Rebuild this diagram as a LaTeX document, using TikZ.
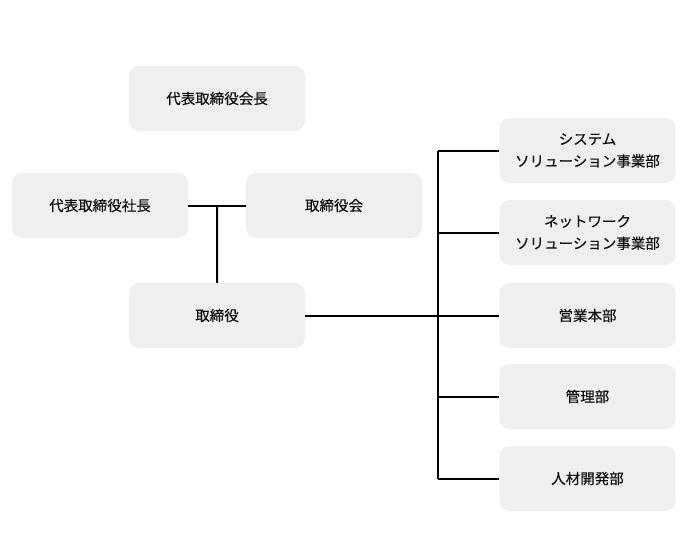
\documentclass[tikz,border=0pt]{standalone}
\usepackage{fontspec}
\newfontfamily\jp[FakeBold=0.4]{Noto Sans CJK JP}
\usepackage{xcolor}
\usetikzlibrary{positioning,calc}
\definecolor{boxgray}{HTML}{EFEFEF}
\definecolor{textgray}{HTML}{111111}
\tikzset{
  orgbox/.style={fill=boxgray, rounded corners=10pt, minimum width=176pt,
    minimum height=65pt, inner sep=0pt, align=center, text=textgray,
    font=\jp\fontsize{14.5}{22}\selectfont},
  orgline/.style={line width=2pt, black}
}

\begin{document}
\begin{tikzpicture}[x=1pt,y=-1pt]
        \useasboundingbox (0,0) rectangle (689,533);

        % left side
        \node [orgbox] (kaicho) at (217,98.5) {代表取締役会長};
        \node [orgbox] (shacho) at (100,205.5) {代表取締役社長};
        \node [orgbox] (torikai) at (334,205.5) {取締役会};
        \node [orgbox] (tori) at (217,315.5) {取締役};

        % right side
        \node [orgbox] (sys) at (587.5,150.5) {システム\\ソリューション事業部};
        \node [orgbox] (net) at (587.5,232.5) {ネットワーク\\ソリューション事業部};
        \node [orgbox] (eigyo) at (587.5,315.5) {営業本部};
        \node [orgbox] (kanri) at (587.5,396.5) {管理部};
        \node [orgbox] (jinzai) at (587.5,478.5) {人材開発部};

        \draw [orgline] (shacho.east) -- (torikai.west);
        \coordinate (mid) at ($(shacho.east)!0.5!(torikai.west)$);
        \draw [orgline] (mid) -- (tori.north);

        \coordinate (trunk) at (438,315.5);
        \draw [orgline] (tori.east) -- (trunk);
        \draw [orgline] (trunk |- sys.west) -- (trunk |- jinzai.west);
        \foreach \n in {sys,net,eigyo,kanri,jinzai}
          \draw [orgline] (trunk |- \n.west) -- (\n.west);
      \end{tikzpicture}
\end{document}
